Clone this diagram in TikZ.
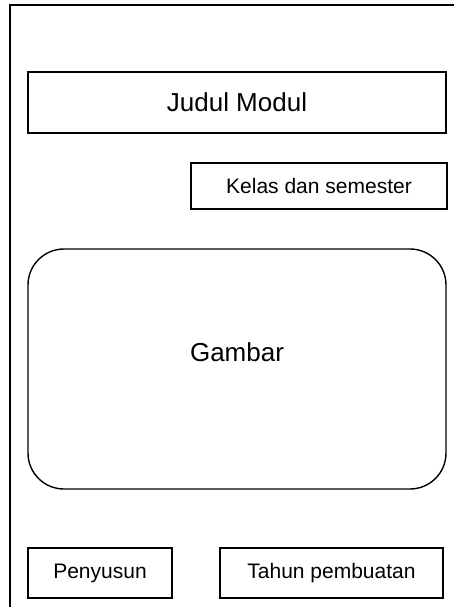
\documentclass[tikz,border=0pt]{standalone}
\usepackage{fontspec}
\setmainfont{Liberation Sans}
\usepackage{tikz}
\usetikzlibrary{positioning}
\tikzstyle{frame} = [draw, line width=1.6pt]
\tikzstyle{block} = [rectangle, draw, line width=1.4pt, text centered, inner sep=0pt]
\tikzstyle{bigtext} = [font=\fontsize{26}{30}\selectfont]
\tikzstyle{smalltext} = [font=\fontsize{21}{25}\selectfont]

\begin{document}
\begin{tikzpicture}[x=1pt,y=-1pt]
    \useasboundingbox (0,0) rectangle (454,607);
    % Draw frame
    \draw[frame] (10,620) -- (10,5) -- (470,5);
    % Place nodes
    \node [block,bigtext,minimum width=418pt,minimum height=61pt] (judul) at (237,102.5) {Judul Modul};
    \node [block,smalltext,minimum width=256pt,minimum height=46pt] (kelas) at (319,186) {Kelas dan semester};
    \node [block,rounded corners=36pt,minimum width=418pt,minimum height=240pt,
           label={[bigtext,yshift=17pt]center:Gambar}] (gambar) at (237,369) {};
    \node [block,smalltext,minimum width=144pt,minimum height=50pt] (penyusun) at (100,573) {Penyusun};
    \node [block,smalltext,minimum width=223pt,minimum height=50pt] (tahun) at (331.5,573) {Tahun pembuatan};
\end{tikzpicture}
\end{document}
